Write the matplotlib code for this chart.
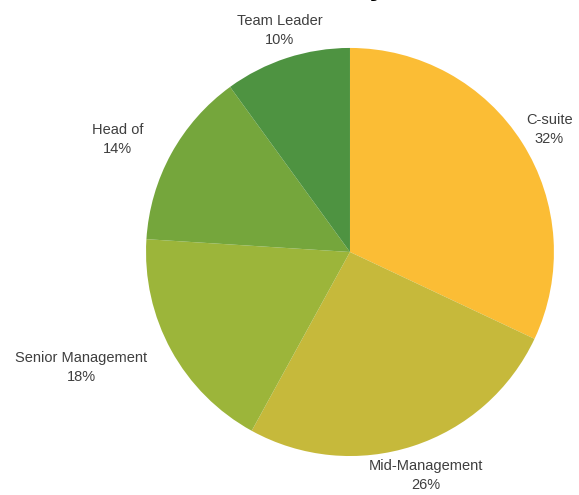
import numpy as np
import matplotlib.pyplot as plt

# Share of respondents by seniority
levels = ['C-suite', 'Mid-Management', 'Senior Management', 'Head of', 'Team Leader']
shares = [32, 26, 18, 14, 10]
colors = ['#FBBD35', '#C6B93B', '#9CB53A', '#75A63C', '#4E9341']

# label offset (pixels) from the rim point at each wedge's middle
label_offset = [(27, 13), (13, -29), (-90, -17), (-54, 14), (-7, 27)]

fig = plt.figure(figsize=(5.79, 4.95), dpi=100)
ax = fig.add_axes([0, 0, 1, 1])

wedges, _ = ax.pie(shares, colors=colors, startangle=90, counterclock=False,
                   wedgeprops={'linewidth': 0})

for w, name, v, off in zip(wedges, levels, shares, label_offset):
    mid = np.deg2rad((w.theta1 + w.theta2) / 2)
    ax.annotate(f'{name}\n{v}%', xy=(np.cos(mid), np.sin(mid)),
                xytext=off, textcoords='offset pixels',
                ha='center', va='center', multialignment='center',
                fontsize=10.5, linespacing=1.45, color='#3f3f3f',
                family='Liberation Sans')

# the pie is drawn with radius 1; limits put it where the original sits
ax.set_xlim(-1.716, 1.123)
ax.set_ylim(-1.191, 1.235)
ax.set_aspect('auto')
ax.axis('off')

# title is cut off at the top of the original image
fig.text(0.665, 1.0085, 'Seniority', ha='right', va='baseline',
         fontsize=18, fontweight='bold', color='black')

fig.savefig('out.png', dpi=100)
